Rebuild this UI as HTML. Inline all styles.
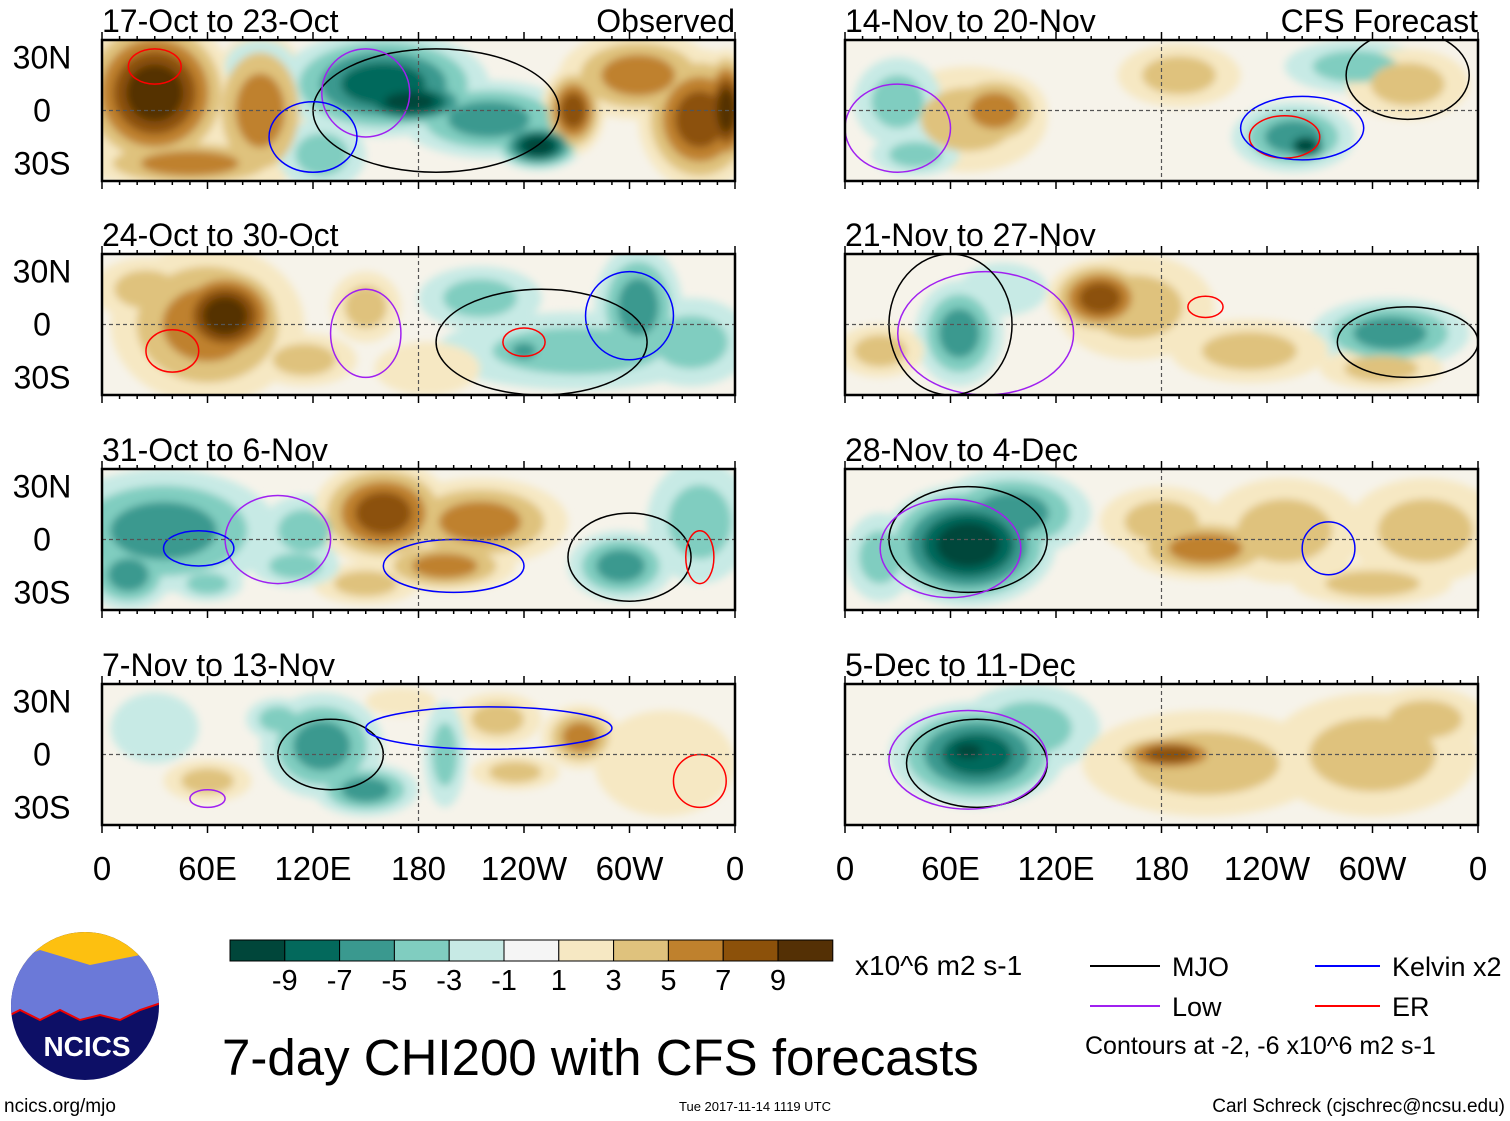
<!DOCTYPE html>
<html><head><meta charset="utf-8"><style>
body{margin:0;background:#fff;font-family:"Liberation Sans",sans-serif}
svg{display:block}
text{font-family:"Liberation Sans",sans-serif;fill:#000}
</style></head><body>
<svg id="c" width="1510" height="1121" xmlns="http://www.w3.org/2000/svg">
<defs><filter id="bl" x="-50%" y="-50%" width="200%" height="200%"><feGaussianBlur stdDeviation="4"/></filter></defs>
</svg>
<script>
const levels=[-9,-7,-5,-3,-1,1,3,5,7,9];
const colors=["#00463a","#03695c","#3a998f","#80cdc0","#c7eae5","#f5f5f5","#f6e8c3","#dfc27d","#bf812d","#8c510a","#543005"];
const titles=["17-Oct to 23-Oct","24-Oct to 30-Oct","31-Oct to 6-Nov","7-Nov to 13-Nov","14-Nov to 20-Nov","21-Nov to 27-Nov","28-Nov to 4-Dec","5-Dec to 11-Dec"];
const lonTicks=["0","60E","120E","180","120W","60W","0"];
const latTicks=["30N","0","30S"];
// blobs: [lon, lat, lonRadius, latRadius, value]
const blobs0=[[30,10,45,45,10],[90,0,30,45,5],[50,-30,60,15,6],[160,15,60,30,-7],[175,5,40,15,-10],[220,-5,50,22,-6],[248,-20,25,14,-10],[268,0,18,25,7],[305,20,45,25,5],[340,-5,35,40,8],[355,0,15,35,10],[125,-25,25,20,-4],[90,25,20,15,-2]];
const blobs1=[[70,5,35,30,10],[60,0,55,45,5],[25,20,30,18,3],[115,-20,30,15,4],[150,10,20,20,3],[215,15,35,18,-3],[270,-15,80,22,-4],[305,10,25,35,-6],[335,-10,35,25,-4],[240,-15,15,10,-6],[185,-25,30,15,2]];
const blobs2=[[35,5,65,35,-6],[15,-20,25,20,-5],[115,5,25,20,-3],[160,15,40,30,7],[215,10,50,25,5],[195,-15,40,15,5],[150,-25,30,12,3],[295,-15,30,20,-5],[340,10,30,35,-3],[110,-15,25,12,-3],[60,-25,20,10,-3]];
const blobs3=[[125,5,35,30,-5],[150,-20,30,15,-5],[100,20,18,12,-3],[272,10,22,18,6],[225,20,25,15,3],[235,-10,25,10,3],[60,-15,25,12,3],[30,15,25,20,-2],[195,0,12,30,-3],[320,-5,40,30,2],[170,30,20,8,2]];
const blobs4=[[85,0,30,22,6],[70,-5,45,30,3],[255,-15,35,20,-5],[262,-20,15,10,-9],[290,25,40,15,-4],[190,20,35,18,3],[320,15,35,20,4],[30,5,25,25,-3],[40,-25,25,12,-3]];
const blobs5=[[145,15,30,22,7],[165,10,45,30,3],[65,-5,25,30,-6],[310,-5,45,20,-5],[230,-15,45,18,4],[305,-25,35,12,3],[20,-15,25,15,3],[90,20,25,15,-2]];
const blobs6=[[70,-3,50,35,-9],[65,-3,22,15,-10],[95,15,45,25,-5],[205,-5,45,18,6],[180,10,35,20,4],[250,5,45,30,4],[330,5,45,30,4],[300,-25,45,12,3],[20,-10,20,25,-3]];
const blobs7=[[75,0,50,30,-7],[70,2,22,12,-10],[105,15,40,25,-4],[185,0,35,12,7],[205,-5,70,30,4],[300,0,60,35,4],[330,20,35,18,3]];
const allBlobs=[blobs0,blobs1,blobs2,blobs3,blobs4,blobs5,blobs6,blobs7];
// contour loops: [lon, lat, lonRadius, latRadius, type]
const loops0=[[190,0,70,35,'k'],[150,10,25,25,'p'],[30,25,15,10,'r'],[120,-15,25,20,'b']];
const loops1=[[250,-10,60,30,'k'],[40,-15,15,12,'r'],[240,-10,12,8,'r'],[300,5,25,25,'b'],[150,-5,20,25,'p']];
const loops2=[[300,-10,35,25,'k'],[100,0,30,25,'p'],[200,-15,40,15,'b'],[55,-5,20,10,'b'],[340,-10,8,15,'r']];
const loops3=[[130,0,30,20,'k'],[220,15,70,12,'b'],[340,-15,15,15,'r'],[60,-25,10,5,'p']];
const loops4=[[250,-15,20,12,'r'],[260,-10,35,18,'b'],[30,-10,30,25,'p'],[320,20,35,25,'k']];
const loops5=[[320,-10,40,20,'k'],[80,-5,50,35,'p'],[205,10,10,6,'r'],[60,0,35,40,'k']];
const loops6=[[70,0,45,30,'k'],[60,-5,40,28,'p'],[275,-5,15,15,'b']];
const loops7=[[75,-5,40,25,'k'],[70,-3,45,28,'p']];
const allLoops=[loops0,loops1,loops2,loops3,loops4,loops5,loops6,loops7];
const loopColor={k:'#000',b:'#0000ff',p:'#a020f0',r:'#ff0000'};
const svg=document.getElementById('c');
const NS="http://www.w3.org/2000/svg";
function mk(t,a,p){const e=document.createElementNS(NS,t);for(const k in a)e.setAttribute(k,a[k]);(p||svg).appendChild(e);return e;}
const colX=[102,845],rowY=[40,254,469,684],PW=633,PH=141;
function xs(c,lon){return colX[c]+lon/360*PW;}
function ys(r,lat){return rowY[r]+(40-lat)/80*PH;}
function colorFor(v){let i=0;while(i<levels.length&&v>levels[i])i++;return colors[i];}
function thr(v){return v<0?levels.filter(l=>l<0&&l>=v).sort((a,b)=>b-a):levels.filter(l=>l>0&&l<=v);}
for(let p=0;p<8;p++){
  const c=p<4?0:1,r=p%4;
  const g=mk('g',{});
  
  
  const cp=mk('clipPath',{id:'cp'+p});mk('rect',{x:colX[c],y:rowY[r],width:PW,height:PH},cp);
  mk('rect',{x:colX[c],y:rowY[r],width:PW,height:PH,fill:'#f6f3ea'},g);
  const fg=mk('g',{'clip-path':'url(#cp'+p+')'},g);
  const inner=mk('g',{filter:'url(#bl)'},fg);
  const rings=[];
  allBlobs[p].forEach(b=>{
    const [lon,lat,rx,ry,v]=b;
    const ts=thr(v);
    ts.forEach((t,i)=>{rings.push({lon,lat,rx,ry,t,s:1-0.8*i/ts.length});});
  });
  rings.sort((a,b)=>Math.abs(a.t)-Math.abs(b.t));
  rings.forEach(q=>{
    const el=mk('ellipse',{cx:xs(c,q.lon),cy:ys(r,q.lat),rx:q.rx/360*PW*q.s,ry:q.ry/80*PH*q.s,fill:colorFor(q.t+(q.t<0?-0.5:0.5))},inner);
    
    
  });
  allLoops[p].forEach(L=>{
    const el=mk('ellipse',{cx:xs(c,L[0]),cy:ys(r,L[1]),rx:L[2]/360*PW,ry:L[3]/80*PH,fill:'none',stroke:loopColor[L[4]],'stroke-width':1.5},fg);
    
    
  });
  mk('line',{x1:xs(c,180),x2:xs(c,180),y1:rowY[r],y2:rowY[r]+PH,stroke:'#555','stroke-dasharray':'4,3','stroke-width':1.2},fg);
  mk('line',{x1:colX[c],x2:colX[c]+PW,y1:ys(r,0),y2:ys(r,0),stroke:'#555','stroke-dasharray':'4,3','stroke-width':1.2},fg);
  mk('rect',{x:colX[c],y:rowY[r],width:PW,height:PH,fill:'none',stroke:'#000','stroke-width':2.5},g);
  for(let l=0;l<=360;l+=10){const L=l%60==0?8:4;mk('line',{x1:xs(c,l),x2:xs(c,l),y1:rowY[r]-L,y2:rowY[r],stroke:'#000','stroke-width':1.5},g);mk('line',{x1:xs(c,l),x2:xs(c,l),y1:rowY[r]+PH,y2:rowY[r]+PH+L,stroke:'#000','stroke-width':1.5},g);}
  const t=mk('text',{x:colX[c],y:rowY[r]-8,'font-size':32},g);t.textContent=titles[p];
  
  if(c==0){latTicks.forEach((s,i)=>{const tt=mk('text',{x:42,y:ys(r,30-30*i)+11,'font-size':32,'text-anchor':'middle'},g);tt.textContent=s;
    });}
}
[["Observed",735],["CFS Forecast",1478]].forEach(a=>{const t=mk('text',{x:a[1],y:32,'font-size':32,'text-anchor':'end'});t.textContent=a[0];
});
for(let c=0;c<2;c++)lonTicks.forEach((s,i)=>{const t=mk('text',{x:xs(c,i*60),y:880,'font-size':33,'text-anchor':'middle'});t.textContent=s;
});
const cb=mk('g',{});
colors.forEach((col,i)=>{mk('rect',{x:230+i*54.8,y:940,width:54.8,height:21,fill:col,stroke:'#000','stroke-width':1},cb);});
levels.forEach((l,i)=>{const t=mk('text',{x:230+(i+1)*54.8,y:990,'font-size':29,'text-anchor':'middle'},cb);t.textContent=l;});
</script>
<svg width="1510" height="1121" style="position:absolute;left:0;top:0" xmlns="http://www.w3.org/2000/svg">
<text x="855" y="975" font-size="28">x10^6 m2 s-1</text>
<g>
<line x1="1090" y1="966" x2="1160" y2="966" stroke="#000" stroke-width="2"/><text x="1172" y="976" font-size="27">MJO</text>
<line x1="1315" y1="966" x2="1380" y2="966" stroke="#0000ff" stroke-width="2"/><text x="1392" y="976" font-size="27">Kelvin x2</text>
<line x1="1090" y1="1006" x2="1160" y2="1006" stroke="#a020f0" stroke-width="2"/><text x="1172" y="1016" font-size="27">Low</text>
<line x1="1315" y1="1006" x2="1380" y2="1006" stroke="#ff0000" stroke-width="2"/><text x="1392" y="1016" font-size="27">ER</text>
<text x="1085" y="1054" font-size="25">Contours at -2, -6 x10^6 m2 s-1</text>
</g>
<text x="222" y="1075" font-size="51">7-day CHI200 with CFS forecasts</text>
<g>
<clipPath id="lg"><ellipse cx="85" cy="1006" rx="74" ry="74"/></clipPath>
<g clip-path="url(#lg)">
<rect x="0" y="920" width="170" height="170" fill="#0d0f66"/>
<rect x="0" y="920" width="170" height="50" fill="#fdc010"/>
<path d="M0,965 L40,950 L90,965 L140,955 L170,970 L170,1000 L140,1010 L120,1020 L100,1015 L80,1020 L60,1010 L40,1020 L20,1010 L0,1020Z" fill="#6b79d8"/>
<path d="M0,1020 L20,1010 L40,1020 L60,1010 L80,1020 L100,1015 L120,1020 L140,1010 L170,1000" fill="none" stroke="#e00" stroke-width="2"/>
</g>
<text x="87" y="1056" font-size="28" font-weight="bold" text-anchor="middle" style="fill:#fff">NCICS</text>
</g>
<text x="4" y="1112" font-size="19">ncics.org/mjo</text>
<text x="755" y="1111" font-size="13" text-anchor="middle">Tue 2017-11-14 1119 UTC</text>
<text x="1505" y="1112" font-size="19" text-anchor="end">Carl Schreck (cjschrec@ncsu.edu)</text>
</svg>
</body></html>
